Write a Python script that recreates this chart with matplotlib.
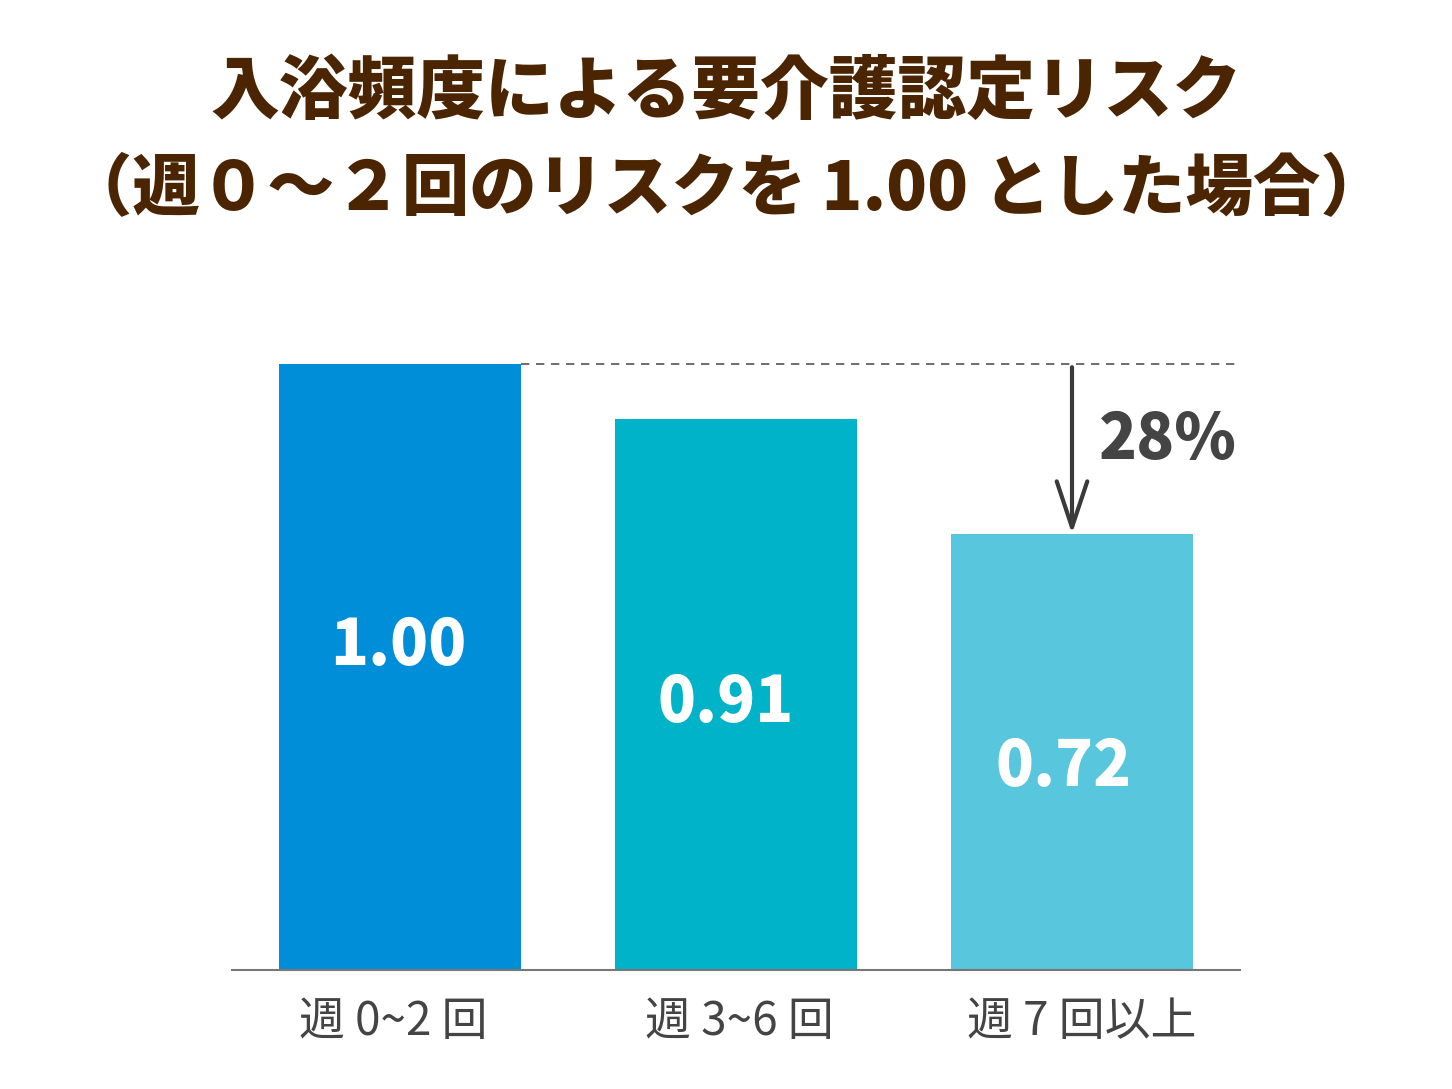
import matplotlib.pyplot as plt

plt.rcParams['font.family'] = ['Noto Sans CJK JP', 'DejaVu Sans']

# data
categories = ['週 0~2 回', '週 3~6 回', '週 7 回以上']
risk = [1.00, 0.91, 0.72]
value_labels = ['1.00', '0.91', '0.72']
reduction_label = '28%'
title_1 = '入浴頻度による要介護認定リスク'
title_2 = '（週０～２回のリスクを 1.00 とした場合）'

colors = ['#008ED8', '#00B3C8', '#58C6DC']
label_y = [0.535, 0.44, 0.335]
label_dx = [-0.005, -0.03, -0.025]
tick_dx = [-0.02, 0.01, 0.03]

fig = plt.figure(figsize=(14.52, 10.89), dpi=100)
ax = fig.add_axes([232 / 1452, 119 / 1089, 1008 / 1452, 727 / 1089])

x = list(range(len(categories)))
ax.bar(x, risk, width=0.72, color=colors, zorder=2)
ax.set_xlim(-0.5, 2.5)
ax.set_ylim(0, 1.2)

for i in x:
    ax.text(i + label_dx[i], label_y[i], value_labels[i], ha='center', va='center',
            color='white', fontsize=45, fontweight='heavy')

# reference line at 1.00
ax.plot([0.36, 2.5], [risk[0], risk[0]], ls=(0, (5, 4)), color='#555555', lw=1.2, zorder=1)

# arrow from 1.00 down to third bar
ax.annotate('', xy=(2, risk[2]), xytext=(2, risk[0] - 0.005),
            arrowprops=dict(arrowstyle='->,head_length=3.3,head_width=1.1',
                            color='#3a3a3a', lw=3, shrinkA=0, shrinkB=0))
ax.text(2.08, 0.875, reduction_label, ha='left', va='center',
        color='#444444', fontsize=45, fontweight='heavy')

ax.set_xticks([i + tick_dx[i] for i in x])
ax.set_xticklabels(categories, fontsize=33, color='#444444')
ax.tick_params(axis='x', length=0, pad=20)
ax.set_yticks([])
for s in ['top', 'left', 'right']:
    ax.spines[s].set_visible(False)
ax.spines['bottom'].set_color('#777777')
ax.spines['bottom'].set_linewidth(1.5)

fig.text(0.5, 1 - 92 / 1089, title_1, ha='center', va='center',
         fontsize=49.5, fontweight='heavy', color='#4B2502')
fig.text(0.5, 1 - 190 / 1089, title_2, ha='center', va='center',
         fontsize=48.5, fontweight='heavy', color='#4B2502')

fig.savefig('out.png', dpi=100)
